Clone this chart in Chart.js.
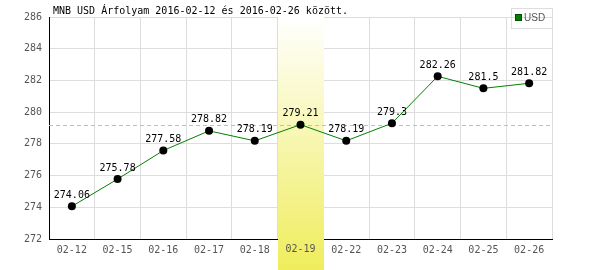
<!DOCTYPE html>
<html>
<head>
<meta charset="utf-8">
<script src="https://cdn.jsdelivr.net/npm/chart.js@4/dist/chart.umd.min.js"></script>
<style>
  html, body { margin: 0; padding: 0; background: #fff; }
  #wrap { width: 600px; height: 270px; }
</style>
</head>
<body>
<div id="wrap"><canvas id="arfolyam" width="600" height="270"></canvas></div>
<script>
var napok = ['02-12','02-15','02-16','02-17','02-18','02-19','02-22','02-23','02-24','02-25','02-26'];
var usdErtekek = [274.06, 275.78, 277.58, 278.82, 278.19, 279.21, 278.19, 279.3, 282.26, 281.5, 281.82];
var kiemeltNap = '02-19';
var szaggatottSzint = 279.21;
var cim = 'MNB USD Árfolyam 2016-02-12 és 2016-02-26 között.';

var monoFont = '"DejaVu Sans Mono", "Liberation Mono", monospace';

// kiemelt oszlop, szaggatott vonal, cimkek
var rajzoloPlugin = {
    id: 'rajzolo',
    beforeDatasetsDraw: function(chart) {
        var c = chart.ctx, x = chart.scales.x, y = chart.scales.y, area = chart.chartArea;
        var idx = napok.indexOf(kiemeltNap);
        var half = (x.getPixelForValue(1) - x.getPixelForValue(0)) / 2;
        var cx = x.getPixelForValue(idx);
        var grad = c.createLinearGradient(0, area.top, 0, chart.height);
        grad.addColorStop(0, '#ffffff');
        grad.addColorStop(1, '#efed5c');
        c.save();
        c.fillStyle = grad;
        c.fillRect(Math.round(cx - half), area.top, Math.round(2 * half), chart.height - area.top);
        // tick felirat ujra
        c.fillStyle = '#555';
        c.font = '10px ' + monoFont;
        c.textAlign = 'center';
        c.textBaseline = 'middle';
        c.fillText(kiemeltNap, cx, area.bottom + 10);
        // szaggatott vonal
        var yy = Math.round(y.getPixelForValue(szaggatottSzint)) + 0.5;
        c.strokeStyle = '#a9cfa9';
        c.lineWidth = 1;
        c.setLineDash([4, 3]);
        c.beginPath();
        c.moveTo(area.left, yy);
        c.lineTo(area.right, yy);
        c.stroke();
        c.restore();
    },
    afterDatasetsDraw: function(chart) {
        var c = chart.ctx;
        var meta = chart.getDatasetMeta(0);
        c.save();
        c.fillStyle = '#000';
        c.font = '10px ' + monoFont;
        c.textAlign = 'center';
        c.textBaseline = 'middle';
        meta.data.forEach(function(pt, i) {
            c.fillText(String(usdErtekek[i]), pt.x, pt.y - 11);
        });
        // cim
        c.textAlign = 'left';
        c.fillText(cim, 53, 11);
        // jelmagyarazat
        c.strokeStyle = '#dddddd';
        c.lineWidth = 1;
        c.strokeRect(511.5, 8.5, 41, 20);
        c.fillStyle = '#008000';
        c.fillRect(515, 14, 7, 7);
        c.strokeStyle = '#004d00';
        c.strokeRect(515.5, 14.5, 6, 6);
        c.fillStyle = '#555';
        c.font = '10px "Liberation Sans Narrow", "Liberation Sans", sans-serif';
        c.fillText('USD', 524, 18);
        c.restore();
    }
};

var chart = new Chart(document.getElementById('arfolyam').getContext('2d'), {
    type: 'line',
    data: {
        labels: napok,
        datasets: [{
            label: 'USD',
            data: usdErtekek,
            borderColor: '#008000',
            borderWidth: 1,
            backgroundColor: '#000',
            pointBackgroundColor: '#000',
            pointBorderWidth: 0,
            pointRadius: 4,
            tension: 0,
            fill: false
        }]
    },
    options: {
        responsive: false,
        animation: false,
        events: [],
        layout: { padding: { top: 17, right: 48, left: 0, bottom: 0 } },
        plugins: {
            legend: { display: false },
            title: { display: false },
            tooltip: { enabled: false }
        },
        scales: {
            x: {
                offset: true,
                grid: { offset: true, color: '#dddddd', drawTicks: false },
                border: { color: '#000', width: 1 },
                ticks: { color: '#555', font: { family: monoFont, size: 10 }, padding: 5, maxRotation: 0, autoSkip: false },
                afterFit: function(s) { s.height = 31; }
            },
            y: {
                min: 272,
                max: 286,
                grid: { color: '#dddddd', drawTicks: false },
                border: { color: '#000', width: 1 },
                ticks: { stepSize: 2, color: '#555', font: { family: monoFont, size: 10 }, padding: 7 },
                afterFit: function(s) { s.width = 49; }
            }
        }
    },
    plugins: [rajzoloPlugin]
});
</script>
</body>
</html>
